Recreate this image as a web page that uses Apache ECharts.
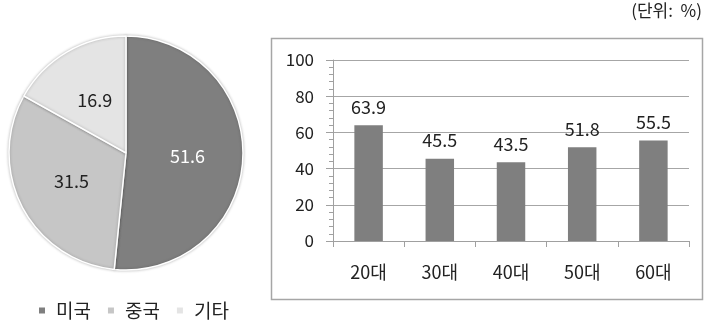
<!DOCTYPE html>
<html>
<head>
<meta charset="utf-8">
<script src="https://cdn.jsdelivr.net/npm/echarts@6/dist/echarts.min.js"></script>
<style>
html,body{margin:0;padding:0;background:#fff;}
#c{width:706px;height:322px;}
</style>
</head>
<body>
<div id="c"></div>
<script>
const pieNames = ['미국', '중국', '기타'];
const pieValues = [51.6, 31.5, 16.9];
const pieColors = ['#7f7f7f', '#c6c6c6', '#e4e4e4'];
const barCategories = ['20대', '30대', '40대', '50대', '60대'];
const barValues = [63.9, 45.5, 43.5, 51.8, 55.5];
const unitText = '(단위:  %)';

const FONT = '"Noto Sans CJK KR", "Noto Sans", sans-serif';
const chart = echarts.init(document.getElementById('c'), null, {renderer: 'canvas'});
chart.setOption({
  animation: false,
  backgroundColor: '#fff',
  textStyle: {fontFamily: FONT},
  graphic: [
    {type: 'rect', shape: {x: 271.5, y: 38.5, width: 431, height: 261}, style: {fill: 'none', stroke: '#a6a6a6', lineWidth: 1.5}, z: 0},
    {type: 'text', right: 4, top: 2, style: {text: unitText, font: '17px ' + FONT, fill: '#222'}}
  ],
  legend: {
    data: pieNames,
    left: 32, top: 296,
    icon: 'rect', itemWidth: 8, itemHeight: 8, itemGap: 15,
    textStyle: {fontSize: 19, color: '#222', fontFamily: FONT, padding: [0, 0, 0, 5]}
  },
  grid: {left: 333, right: 17, top: 60, bottom: 81},
  xAxis: {
    type: 'category', data: barCategories,
    axisLine: {lineStyle: {color: '#a0a0a0', width: 1}},
    axisTick: {show: true, alignWithLabel: false, length: 6, lineStyle: {color: '#a0a0a0'}},
    axisLabel: {fontSize: 18, color: '#222', margin: 22, fontFamily: FONT}
  },
  yAxis: {
    type: 'value', min: 0, max: 100, interval: 20,
    axisLine: {show: true, lineStyle: {color: '#a0a0a0', width: 1}},
    axisTick: {show: true, length: 7, lineStyle: {color: '#a0a0a0'}},
    minorTick: {show: true, splitNumber: 5, length: 4, lineStyle: {color: '#a0a0a0'}},
    splitLine: {show: true, lineStyle: {color: '#a6a6a6', width: 1}},
    axisLabel: {fontSize: 17, color: '#222', margin: 19, fontFamily: FONT}
  },
  series: [
    {
      type: 'bar', data: barValues, barWidth: '40%',
      itemStyle: {color: '#7f7f7f'},
      label: {show: true, position: 'top', distance: 9, fontSize: 18, color: '#222', fontFamily: FONT}
    },
    {
      type: 'pie', center: [126, 153], radius: 117, startAngle: 90, clockwise: true,
      data: pieNames.map((n, i) => ({name: n, value: pieValues[i], itemStyle: {color: pieColors[i]},
        label: {color: i === 0 ? '#fff' : '#222'}})),
      itemStyle: {borderColor: '#fff', borderWidth: 1.5, shadowBlur: 3, shadowColor: 'rgba(0,0,0,0.25)'},
      label: {show: true, position: 'inside', fontSize: 18, fontFamily: FONT, formatter: p => p.value.toFixed(1)},
      labelLine: {show: false},
      emphasis: {disabled: true}
    }
  ]
});
</script>
</body>
</html>
